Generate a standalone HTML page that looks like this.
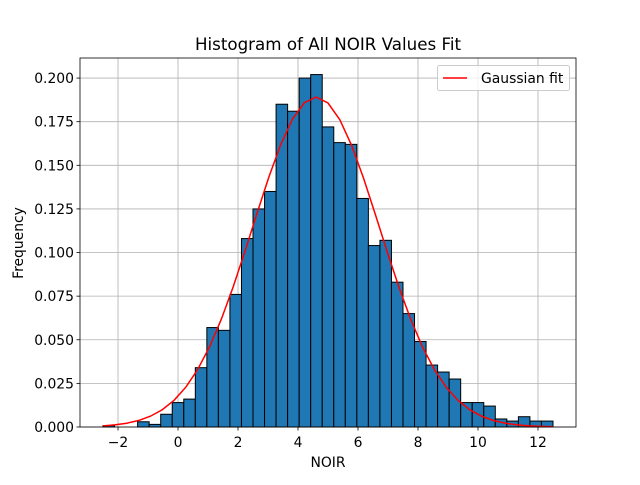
<!DOCTYPE html>
<html><head><meta charset="utf-8"><style>
body{margin:0;background:#fff;font-family:"Liberation Sans","DejaVu Sans",sans-serif}
</style></head><body>
<svg id="chart" width="640" height="480" xmlns="http://www.w3.org/2000/svg" font-family="DejaVu Sans, Liberation Sans, sans-serif"></svg>
<script>
const binStart = -2.5;
const binEnd = 12.5;
const freqs = [0.0008,0,0,0.003,0.0015,0.0073,0.014,0.016,0.034,0.057,0.0554,0.076,0.108,0.125,0.135,0.185,0.181,0.200,0.202,0.172,0.163,0.162,0.131,0.104,0.107,0.083,0.065,0.049,0.0355,0.0315,0.0275,0.014,0.014,0.012,0.0046,0.0034,0.0059,0.0034,0.0034];
const fitMu = 4.6;
const fitSigma = 2.11;
const xTicks = [-2,0,2,4,6,8,10,12];
const yTicks = [0,0.025,0.05,0.075,0.1,0.125,0.15,0.175,0.2];
const yTickLabels = ["0.000","0.025","0.050","0.075","0.100","0.125","0.150","0.175","0.200"];

const L=80,R=576,T=58,B=427;
const xmin=-3.267,xmax=13.267,ymin=0,ymax=0.2115;
const X=v=>L+(v-xmin)/(xmax-xmin)*(R-L);
const Y=v=>B-(v-ymin)/(ymax-ymin)*(B-T);
const svg=document.getElementById('chart');
const NS='http://www.w3.org/2000/svg';
function mk(tag,attrs,parent){const e=document.createElementNS(NS,tag);for(const k in attrs)e.setAttribute(k,attrs[k]);(parent||svg).appendChild(e);return e;}

xTicks.forEach(t=>{const g=mk('line',{x1:X(t),x2:X(t),y1:T,y2:B,stroke:'#b0b0b0','stroke-width':0.8});

});
yTicks.forEach(t=>{const g=mk('line',{x1:L,x2:R,y1:Y(t),y2:Y(t),stroke:'#b0b0b0','stroke-width':0.8});

});

const n=freqs.length,w=(binEnd-binStart)/n;
freqs.forEach((f,i)=>{const x0=X(binStart+i*w),x1=X(binStart+(i+1)*w);
const r=mk('rect',{x:x0,y:Y(f),width:x1-x0,height:Y(0)-Y(f),fill:'#1f77b4',stroke:'#000','stroke-width':1});

});

let pts=[];
for(let i=0;i<n;i++){const x=binStart+i*(binEnd-binStart)/(n-1);const y=Math.exp(-0.5*((x-fitMu)/fitSigma)**2)/(fitSigma*Math.sqrt(2*Math.PI));pts.push(X(x)+','+Y(y));}
const pl=mk('polyline',{points:pts.join(' '),fill:'none',stroke:'#ff0000','stroke-width':1.5});



const fr=mk('rect',{x:L,y:T,width:R-L,height:B-T,fill:'none',stroke:'#000','stroke-width':0.8});



xTicks.forEach(t=>{mk('line',{x1:X(t),x2:X(t),y1:B,y2:B+3.5,stroke:'#000','stroke-width':0.8});
const tx=mk('text',{x:X(t),y:B+20,'font-size':13.9,'text-anchor':'middle'});tx.textContent=(t<0?'\u2212'+(-t):t);

});
yTicks.forEach((t,i)=>{mk('line',{x1:L-3.5,x2:L,y1:Y(t),y2:Y(t),stroke:'#000','stroke-width':0.8});
const tx=mk('text',{x:L-6,y:Y(t)+5,'font-size':13.9,'text-anchor':'end'});tx.textContent=yTickLabels[i];

});
</script>
<svg style="position:absolute;left:0;top:0" width="640" height="480" font-family="DejaVu Sans, Liberation Sans, sans-serif">
<text x="328" y="50" font-size="16.7" text-anchor="middle">Histogram of All NOIR Values Fit</text>
<text x="328" y="467" font-size="13.9" text-anchor="middle">NOIR</text>
<text x="23" y="243" font-size="13.9" text-anchor="middle" transform="rotate(-90 23 243)">Frequency</text>
<g>
<rect x="437.5" y="65.5" width="132" height="25" rx="2" fill="#fff" fill-opacity="0.8" stroke="#ccc"/>
<line x1="443" x2="467" y1="78" y2="78" stroke="#ff0000" stroke-width="1.5"/>
<text x="481" y="83" font-size="13.9">Gaussian fit</text>
</g>
</svg>
</body></html>
